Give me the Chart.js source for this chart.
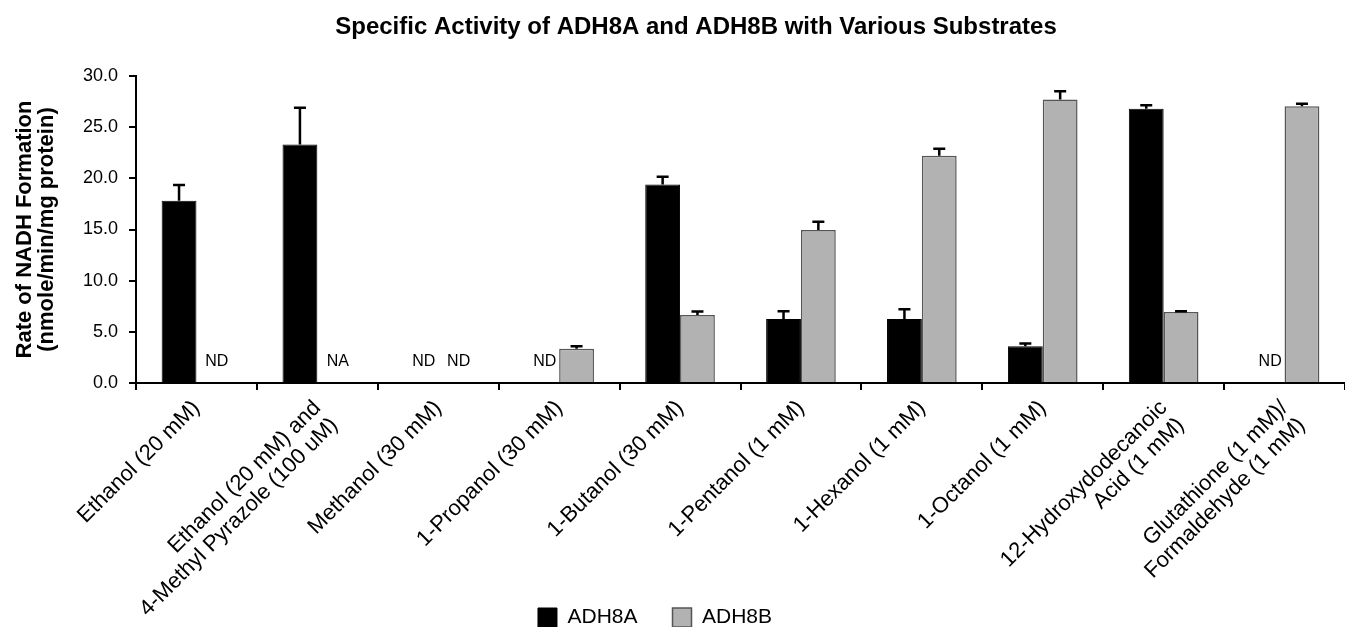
<!DOCTYPE html>
<html>
<head>
<meta charset="utf-8">
<title>Specific Activity of ADH8A and ADH8B</title>
<script src="https://cdn.jsdelivr.net/npm/chart.js@4.4.1/dist/chart.umd.min.js"></script>
<style>
  html, body { margin: 0; padding: 0; background: #fff; }
  #wrap { width: 1345px; height: 627px; }
</style>
</head>
<body>
<div id="wrap"><canvas id="grafico" width="1345" height="627"></canvas></div>
<script>
// valores
const titulo = 'Specific Activity of ADH8A and ADH8B with Various Substrates';
const categorias = [
    'Ethanol (20 mM)',
    ['Ethanol (20 mM) and', '4-Methyl Pyrazole (100 uM)'],
    'Methanol (30 mM)',
    '1-Propanol (30 mM)',
    '1-Butanol (30 mM)',
    '1-Pentanol (1 mM)',
    '1-Hexanol (1 mM)',
    '1-Octanol (1 mM)',
    ['12-Hydroxydodecanoic', 'Acid (1 mM)'],
    ['Glutathione (1 mM)/', 'Formaldehyde (1 mM)']
];
const adh8a = [17.8, 23.3, null, null, 19.4, 6.25, 6.25, 3.6, 26.8, null];
const adh8aErro = [1.55, 3.6, 0, 0, 0.75, 0.75, 0.95, 0.25, 0.35, 0];
const adh8aNota = [null, null, 'ND', 'ND', null, null, null, null, null, 'ND'];
const adh8b = [null, null, null, 3.35, 6.65, 14.95, 22.2, 27.7, 6.95, 27.05];
const adh8bErro = [0, 0, 0, 0.25, 0.33, 0.8, 0.7, 0.8, 0.05, 0.25];
const adh8bNota = ['ND', 'NA', 'ND', null, null, null, null, null, null, null];
const yTitulo = ['Rate of NADH Formation', '(nmole/min/mg protein)'];
const yMin = 0;
const yMax = 30;
const yPasso = 5;

const fonte = '"Liberation Sans", Arial, Helvetica, sans-serif';

// barras de erro (só para cima)
const barrasErro = {
    id: 'barrasErro',
    afterDatasetsDraw(chart) {
        const ctx = chart.ctx;
        const y = chart.scales.y;
        chart.data.datasets.forEach((ds, d) => {
            const meta = chart.getDatasetMeta(d);
            meta.data.forEach((bar, i) => {
                const v = ds.data[i];
                const e = ds.erros[i];
                if (v == null || !e) return;
                const topo = y.getPixelForValue(v + e);
                ctx.save();
                ctx.strokeStyle = '#000';
                ctx.lineWidth = 2.5;
                ctx.beginPath();
                ctx.moveTo(bar.x, bar.y);
                ctx.lineTo(bar.x, topo);
                ctx.moveTo(bar.x - 6, topo);
                ctx.lineTo(bar.x + 6, topo);
                ctx.stroke();
                ctx.restore();
            });
        });
    }
};

// textos ND / NA onde não há barra
const notas = {
    id: 'notas',
    afterDatasetsDraw(chart) {
        const ctx = chart.ctx;
        const base = chart.scales.y.getPixelForValue(0);
        chart.data.datasets.forEach((ds, d) => {
            const meta = chart.getDatasetMeta(d);
            ds.notas.forEach((txt, i) => {
                if (!txt) return;
                ctx.save();
                ctx.font = '16px ' + fonte;
                ctx.fillStyle = '#000';
                ctx.textAlign = 'center';
                ctx.textBaseline = 'middle';
                ctx.fillText(txt, meta.data[i].x + 3, base - 21);
                ctx.restore();
            });
        });
    }
};

// título centrado como no original
const tituloPlugin = {
    id: 'tituloPlugin',
    afterDraw(chart) {
        const ctx = chart.ctx;
        ctx.save();
        ctx.font = 'bold 24px ' + fonte;
        ctx.fillStyle = '#000';
        ctx.textAlign = 'center';
        ctx.textBaseline = 'alphabetic';
        ctx.fillText(titulo, 696, 34);
        ctx.restore();
    }
};

// deixa os rótulos do eixo x descerem até o fim e puxa a legenda para a esquerda
const ajusteLayout = {
    id: 'ajusteLayout',
    afterLayout(chart) {
        chart.scales.x.bottom = chart.height;
        chart.legend.right = chart.legend.right - 42;
    }
};

const canvas = document.getElementById('grafico');
new Chart(canvas.getContext('2d'), {
    type: 'bar',
    data: {
        labels: categorias,
        datasets: [
            {
                label: 'ADH8A',
                data: adh8a,
                erros: adh8aErro,
                notas: adh8aNota,
                backgroundColor: '#000',
                borderColor: '#000',
                borderWidth: 1,
                categoryPercentage: 0.576,
                barPercentage: 1.0
            },
            {
                label: 'ADH8B',
                data: adh8b,
                erros: adh8bErro,
                notas: adh8bNota,
                backgroundColor: '#b2b2b2',
                borderColor: '#555',
                borderWidth: 1.5,
                categoryPercentage: 0.576,
                barPercentage: 1.0
            }
        ]
    },
    options: {
        responsive: false,
        animation: false,
        events: [],
        layout: {
            padding: { top: 76, right: -7, bottom: 0, left: 0 }
        },
        plugins: {
            title: { display: false },
            tooltip: { enabled: false },
            legend: {
                position: 'bottom',
                maxHeight: 55,
                labels: {
                    boxWidth: 19,
                    boxHeight: 19,
                    padding: 35,
                    color: '#000',
                    font: { family: fonte, size: 21 }
                }
            }
        },
        scales: {
            x: {
                afterFit: (scale) => { scale.height = 189; },
                grid: {
                    display: true,
                    drawOnChartArea: false,
                    drawTicks: true,
                    tickLength: 7,
                    color: '#000',
                    lineWidth: 2
                },
                border: { display: true, color: '#000', width: 2 },
                ticks: {
                    autoSkip: false,
                    minRotation: 45,
                    maxRotation: 45,
                    padding: 6,
                    color: '#000',
                    font: { family: fonte, size: 22, lineHeight: 1.1 }
                }
            },
            y: {
                min: yMin,
                max: yMax,
                afterFit: (scale) => { scale.width = 136; },
                grid: {
                    display: true,
                    drawOnChartArea: false,
                    drawTicks: true,
                    tickLength: 7,
                    color: '#000',
                    lineWidth: 2
                },
                border: { display: true, color: '#000', width: 2 },
                ticks: {
                    stepSize: yPasso,
                    padding: 11,
                    color: '#000',
                    font: { family: fonte, size: 18 },
                    callback: (v) => Number(v).toFixed(1)
                },
                title: {
                    display: true,
                    text: yTitulo,
                    color: '#000',
                    padding: { top: 14, bottom: 0 },
                    font: { family: fonte, size: 22, weight: 'bold', lineHeight: 1.0 }
                }
            }
        }
    },
    plugins: [ajusteLayout, barrasErro, notas, tituloPlugin]
});
</script>
</body>
</html>
